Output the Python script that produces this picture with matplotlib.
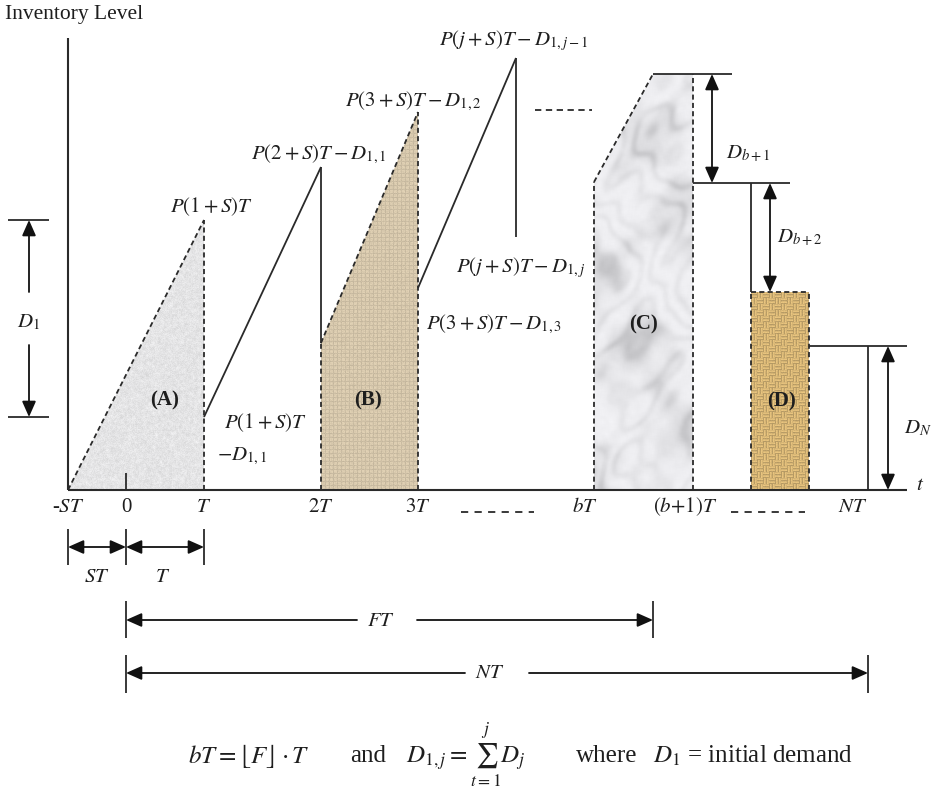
import numpy as np
import matplotlib
matplotlib.use("Agg")
import matplotlib.pyplot as plt
from matplotlib.patches import Polygon, FancyArrowPatch

plt.rcParams["font.family"] = ["Liberation Serif", "DejaVu Serif"]
plt.rcParams["mathtext.fontset"] = "stix"

# ---------------- diagram data ----------------
# period marks on the time axis
period_labels = ["-$ST$", "0", "$T$", "$2T$", "$3T$", "$bT$", "$(b{+}1)T$", "$NT$"]
period_x = [68, 126, 204, 321, 418, 594, 693, 868]
period_label_x = [68, 126, 204, 321, 418, 585, 685, 853]

# saw-tooth production cycles: ramp start/end times and inventory levels
ramp_t0 = [68, 204, 321, 418]
ramp_t1 = [204, 321, 418, 516]
ramp_lvl0 = [0, 73, 147, 202]
ramp_lvl1 = [270, 323, 378, 432]
drop_lvl = [73, 147, 202, 253]
ramp_shaded = [True, False, True, False]

ramp_peak_text = [r"$P(1+S)T$", r"$P(2+S)T-D_{1,1}$",
                  r"$P(3+S)T-D_{1,2}$", r"$P(j+S)T-D_{1,j-1}$"]

# tail of the horizon: period b, b+1, b+2, ..., N
c_left, c_right = 594, 693
c_knee_lvl, c_top_t, c_top_lvl = 308, 653, 416
tail_lvl = [416, 307, 198, 144]          # D_{b+1}, D_{b+2}, D_N steps
d_left, d_right = 751, 809
n_line_t = 868

ink = "#2a2a2a"
LW = 1.3
DASH = (0, (2.8, 1.8))

fig = plt.figure(figsize=(9.34, 7.93), dpi=100)
ax = fig.add_axes([0, 0, 1, 1])
ax.set_xlim(0, 934)
ax.set_ylim(490 - 793, 490)
ax.axis("off")


# ---------------- textures ----------------
def grid(x0, x1, y0, y1):
    w, h = int(x1 - x0), int(y1 - y0)
    yy, xx = np.mgrid[0:h, 0:w].astype(float)
    return xx, yy


def hash_noise(xx, yy, shift=0.0):
    v = np.sin(xx * 12.9898 + yy * 78.233 + shift) * 43758.5453
    return v - np.floor(v)


def smooth_noise(xx, yy, terms):
    out = np.zeros_like(xx)
    for a, fx, fy, p in terms:
        out += a * np.sin(fx * xx + fy * yy + p)
    return out


def box_blur(a, r):
    k = np.ones(2 * r + 1) / (2 * r + 1)
    a = np.apply_along_axis(lambda v: np.convolve(np.pad(v, r, mode="edge"), k, "valid"), 0, a)
    a = np.apply_along_axis(lambda v: np.convolve(np.pad(v, r, mode="edge"), k, "valid"), 1, a)
    return a


def tex_speckle(xx, yy):
    n = box_blur(hash_noise(xx, yy), 1)
    n2 = hash_noise(xx + 0.5, yy + 1.5, 3.1)
    g = 0.895 + 0.12 * (n - 0.5) + 0.05 * (n2 - 0.5)
    return np.dstack([g, g, g * 1.005]).clip(0, 1)


def tex_burlap(xx, yy):
    base = np.array([0.86, 0.80, 0.69])
    line = ((xx % 4) < 1) | ((yy % 4) < 1)
    k = np.where(line, 0.92, 1.0) + 0.06 * (hash_noise(xx, yy, 1.7) - 0.5)
    return np.clip(base[None, None, :] * k[..., None], 0, 1)


def tex_marble(xx, yy):
    n = smooth_noise(xx, yy, [(1.0, 0.031, 0.017, 0.3), (0.7, -0.023, 0.041, 1.9),
                              (0.5, 0.067, 0.052, 4.2), (0.35, -0.11, 0.083, 2.6),
                              (0.25, 0.17, -0.13, 0.8)])
    blot = smooth_noise(xx, yy, [(1.0, 0.045, 0.028, 2.0), (0.8, -0.036, 0.061, 0.7),
                                 (0.5, 0.091, -0.074, 3.3), (0.4, 0.13, 0.11, 1.1),
                                 (0.3, -0.19, 0.15, 2.4)])
    vein = np.sin(0.05 * xx + 0.03 * yy + 2.2 * n)
    d = np.exp(-(vein ** 2) / 0.35)
    cloud = 1.0 / (1.0 + np.exp(-(blot - 0.6) * 2.5))
    g = 0.945 - 0.13 * cloud * (0.5 + 0.5 * d) - 0.05 * d
    g = box_blur(g + 0.06 * (hash_noise(xx, yy, 5.0) - 0.5), 2)
    return np.dstack([g, g, g + 0.012]).clip(0, 1)


def tex_basket(xx, yy):
    b = 6
    orient = ((xx // b + yy // b) % 2).astype(bool)
    s = np.where(orient, xx % b, yy % b)
    t = s % 3
    bright = np.choose(t.astype(int), [0.80, 1.0, 0.93])
    base = np.array([0.85, 0.71, 0.44])
    k = bright + 0.06 * (hash_noise(xx, yy, 2.3) - 0.5)
    return np.clip(base[None, None, :] * k[..., None] + 0.05, 0, 1)


def textured_region(verts, maker):
    xs = [v[0] for v in verts]
    ys = [v[1] for v in verts]
    x0, x1, y0, y1 = min(xs), max(xs), min(ys), max(ys)
    xx, yy = grid(x0, x1, y0, y1)
    img = maker(xx, yy)
    patch = Polygon(verts, closed=True, facecolor="none", edgecolor="none")
    ax.add_patch(patch)
    im = ax.imshow(img, extent=(x0, x1, y0, y1), origin="lower",
                   interpolation="bilinear", zorder=1, aspect="auto")
    im.set_clip_path(patch)


# region (A): first ramp triangle
textured_region([(ramp_t0[0], 0), (ramp_t1[0], ramp_lvl1[0]), (ramp_t1[0], 0)], tex_speckle)
# region (B): third ramp trapezoid
textured_region([(ramp_t0[2], 0), (ramp_t0[2], ramp_lvl0[2]),
                 (ramp_t1[2], ramp_lvl1[2]), (ramp_t1[2], 0)], tex_burlap)
# region (C): period b
textured_region([(c_left, 0), (c_left, c_knee_lvl), (c_top_t, c_top_lvl),
                 (c_right, c_top_lvl), (c_right, 0)], tex_marble)
# region (D): period b+2
textured_region([(d_left, 0), (d_left, tail_lvl[2]), (d_right, tail_lvl[2]),
                 (d_right, 0)], tex_basket)


def line(xs, ys, dashed=False, lw=LW, color=ink):
    ax.plot(xs, ys, color=color, lw=lw, ls=DASH if dashed else "-",
            solid_capstyle="butt", zorder=3)


def arrow(p0, p1, style="-|>", ms=10):
    ax.add_patch(FancyArrowPatch(p0, p1,
                                 arrowstyle=f"{style},head_length=0.95,head_width=0.42",
                                 mutation_scale=ms, lw=LW, color="#111",
                                 shrinkA=0, shrinkB=0, zorder=4))


# ---------------- axes ----------------
line([68, 68], [0, 452], lw=1.5)
line([68, 907], [0, 0], lw=1.5)
line([126, 126], [0, 17])

# ---------------- saw-tooth cycles ----------------
for i in range(4):
    line([ramp_t0[i], ramp_t1[i]], [ramp_lvl0[i], ramp_lvl1[i]], dashed=ramp_shaded[i])
    if ramp_shaded[i]:
        line([ramp_t1[i], ramp_t1[i]], [0, ramp_lvl1[i]], dashed=True)
    else:
        line([ramp_t1[i], ramp_t1[i]], [drop_lvl[i], ramp_lvl1[i]])
# left edge of (B) below the ramp start
line([ramp_t0[2], ramp_t0[2]], [0, ramp_lvl0[2]], dashed=True)

# ---------------- period b ----------------
line([c_left, c_left], [0, c_knee_lvl], dashed=True)
line([c_left, c_top_t], [c_knee_lvl, c_top_lvl], dashed=True)
line([c_right, c_right], [0, c_top_lvl], dashed=True)
line([c_top_t, 732], [c_top_lvl, c_top_lvl])

# ---------------- later periods ----------------
line([c_right, 790], [tail_lvl[1], tail_lvl[1]])
line([d_left, d_left], [tail_lvl[2], tail_lvl[1]])
line([d_left, d_left], [0, tail_lvl[2]], dashed=True)
line([d_left, d_right], [tail_lvl[2], tail_lvl[2]], dashed=True)
line([d_right, d_right], [0, tail_lvl[2]], dashed=True)
line([d_right, 907], [tail_lvl[3], tail_lvl[3]])
line([n_line_t, n_line_t], [0, tail_lvl[3]])

arrow((712, tail_lvl[1]), (712, tail_lvl[0]), "<|-|>")
arrow((770, tail_lvl[2]), (770, tail_lvl[1]), "<|-|>")
arrow((888, 0), (888, tail_lvl[3]), "<|-|>")

# D_1 dimension on the left
line([8, 49], [ramp_lvl1[0], ramp_lvl1[0]])
line([8, 49], [ramp_lvl0[1], ramp_lvl0[1]])
arrow((29, 198), (29, ramp_lvl1[0]))
arrow((29, 145), (29, ramp_lvl0[1]))

# ellipsis dashes
ax.plot([535, 592], [380, 380], color=ink, lw=1.3, ls=(0, (3.5, 2.5)), zorder=3)
ax.plot([461, 534], [-22, -22], color=ink, lw=1.3, ls=(0, (4, 3.5)), zorder=3)
ax.plot([731, 805], [-22, -22], color=ink, lw=1.3, ls=(0, (4, 3.5)), zorder=3)

# ---------------- texts ----------------
FS = 15
TC = "#1e1e1e"
ax.text(5, 476, "Inventory Level", fontsize=15.5, ha="left", va="center", color=TC)

for lx, lab in zip(period_label_x, period_labels):
    ax.text(lx, -17, lab, fontsize=FS, ha="center", va="center", color=TC)
ax.text(920, 4, "$t$", fontsize=FS, ha="center", va="center", color=TC)

ax.text(212, 283, ramp_peak_text[0], fontsize=FS, ha="center", va="center", color=TC)
ax.text(319, 336, ramp_peak_text[1], fontsize=FS, ha="center", va="center", color=TC)
ax.text(413, 389, ramp_peak_text[2], fontsize=FS, ha="center", va="center", color=TC)
ax.text(514, 449, ramp_peak_text[3], fontsize=FS, ha="center", va="center", color=TC)
ax.text(521, 222, r"$P(j+S)T-D_{1,j}$", fontsize=FS, ha="center", va="center", color=TC)
ax.text(494, 166, r"$P(3+S)T-D_{1,3}$", fontsize=FS, ha="center", va="center", color=TC)
ax.text(266, 67, r"$P(1+S)T$", fontsize=FS, ha="center", va="center", color=TC)
ax.text(217, 34, r"$-D_{1,1}$", fontsize=FS, ha="left", va="center", color=TC)

for x, y, s in [(165, 90, "(A)"), (368, 90, "(B)"), (643, 166, "(C)"), (782, 89, "(D)")]:
    ax.text(x, y, s, fontsize=15, fontweight="bold", ha="center", va="center",
            color=TC, zorder=5)

ax.text(29, 168, r"$D_1$", fontsize=FS, ha="center", va="center", color=TC)
ax.text(748, 336, r"$D_{b+1}$", fontsize=FS, ha="center", va="center", color=TC)
ax.text(800, 252, r"$D_{b+2}$", fontsize=FS, ha="center", va="center", color=TC)
ax.text(918, 62, r"$D_N$", fontsize=FS, ha="center", va="center", color=TC)

# ---------------- horizon dimensions ----------------
for x in [68, 126, 204]:
    line([x, x], [-39, -75])
arrow((68, -57), (126, -57), "<|-|>")
arrow((126, -57), (204, -57), "<|-|>")
ax.text(97, -87, "$ST$", fontsize=FS, ha="center", va="center", color=TC)
ax.text(163, -87, "$T$", fontsize=FS, ha="center", va="center", color=TC)

for x in [126, 653]:
    line([x, x], [-111, -148])
arrow((357, -130), (126, -130))
arrow((417, -130), (653, -130))
ax.text(381, -131, "$FT$", fontsize=FS, ha="center", va="center", color=TC)

for x in [126, 868]:
    line([x, x], [-165, -203])
arrow((465, -183), (126, -183))
arrow((529, -183), (868, -183))
ax.text(490, -184, "$NT$", fontsize=FS, ha="center", va="center", color=TC)

# ---------------- definitions ----------------
FB = 18
YB = -266
ax.text(188, YB, r"$bT=\lfloor F\rfloor\cdot T$", fontsize=FB, ha="left", va="center", color=TC)
ax.text(350, YB, "and", fontsize=FB, ha="left", va="center", color=TC)
ax.text(406, YB, r"$D_{1,j}=\sum_{t=1}^{j}D_j$", fontsize=FB, ha="left", va="center", color=TC)
ax.text(576, YB, "where", fontsize=FB, ha="left", va="center", color=TC)
ax.text(653, YB, r"$D_1$ = initial demand", fontsize=FB, ha="left", va="center", color=TC)

fig.savefig("out.png", dpi=100, facecolor="white")
